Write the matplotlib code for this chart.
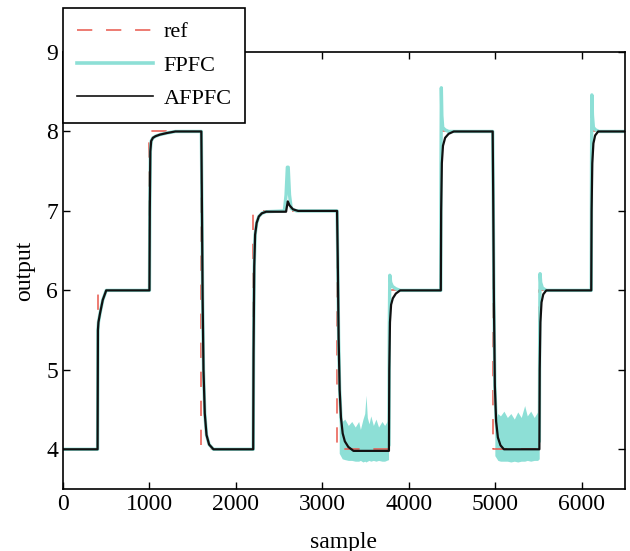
import matplotlib
matplotlib.use("Agg")
import matplotlib.pyplot as plt

plt.rcParams['font.family'] = ['Liberation Serif', 'DejaVu Serif']

# reference step signal (change points and levels)
ref_t = [0, 400, 1000, 1600, 2200, 3170, 3770, 4370, 4970, 5510, 6110, 6500]
ref_v = [4, 6, 8, 4, 7, 4, 6, 8, 4, 6, 8, 8]

# AFPFC output, key points
af_x = [0, 400, 404, 410, 430, 460, 500, 1000, 1004, 1010, 1020, 1040, 1070, 1120, 1200, 1300,
        1600, 1606, 1615, 1625, 1640, 1660, 1690, 1740, 2200, 2204, 2212, 2222, 2240, 2265, 2300,
        2350, 2580, 2600, 2620, 2660, 2720, 3170, 3178, 3188, 3200, 3215, 3235, 3260, 3300, 3360,
        3770, 3774, 3782, 3795, 3815, 3850, 3900, 4370, 4374, 4382, 4395, 4420, 4460, 4520,
        4970, 4976, 4984, 4995, 5010, 5030, 5060, 5100, 5510, 5514, 5522, 5535, 5555, 5590,
        6110, 6114, 6122, 6135, 6155, 6190, 6500]
af_y = [4.0, 4.0, 5.5, 5.6, 5.72, 5.88, 6.0, 6.0, 7.0, 7.75, 7.88, 7.92, 7.94, 7.96, 7.98, 8.0,
        8.0, 7.2, 5.9, 5.0, 4.45, 4.18, 4.06, 4.0, 4.0, 5.2, 6.3, 6.7, 6.85, 6.93, 6.97,
        6.99, 6.99, 7.12, 7.07, 7.02, 7.0, 7.0, 6.4, 5.4, 4.75, 4.4, 4.2, 4.1, 4.03, 3.98,
        3.98, 5.0, 5.6, 5.82, 5.9, 5.96, 6.0, 6.0, 7.0, 7.6, 7.82, 7.92, 7.97, 8.0,
        8.0, 7.2, 5.9, 4.8, 4.35, 4.15, 4.05, 4.0, 4.0, 5.0, 5.6, 5.85, 5.95, 6.0,
        6.0, 7.0, 7.6, 7.85, 7.95, 8.0, 8.0]

# FPFC output, key points
fp_x = [0, 400, 404, 410, 430, 460, 500, 1000, 1004, 1010, 1020, 1040, 1070, 1120, 1200, 1300,
        1600, 1606, 1615, 1625, 1640, 1660, 1690, 1740, 2200, 2204, 2212, 2222, 2240, 2265, 2300,
        2350, 2560, 2580, 2595, 2605, 2620, 2640, 2700, 3170, 3178, 3188, 3200, 3215, 3240,
        3300, 3770, 3774, 3780, 3790, 3810, 3850, 3900, 4370, 4372, 4376, 4382, 4392, 4420, 4460,
        4970, 4976, 4984, 4995, 5010, 5030, 5510, 5514, 5518, 5525, 5545, 5590,
        6110, 6113, 6117, 6124, 6135, 6160, 6200, 6500]
fp_y = [4.0, 4.0, 5.5, 5.6, 5.72, 5.88, 6.0, 6.0, 7.0, 7.75, 7.88, 7.92, 7.94, 7.96, 7.98, 8.0,
        8.0, 7.2, 5.9, 5.0, 4.45, 4.18, 4.06, 4.0, 4.0, 5.2, 6.3, 6.7, 6.85, 6.93, 6.97,
        6.99, 7.0, 7.2, 7.55, 7.55, 7.2, 7.03, 7.0, 7.0, 6.4, 5.4, 4.75, 4.4, 4.15,
        4.05, 4.05, 5.5, 6.19, 6.1, 6.05, 6.02, 6.0, 6.0, 7.5, 8.55, 8.2, 8.05, 8.02, 8.0,
        8.0, 7.2, 5.9, 4.8, 4.35, 4.1, 4.1, 5.6, 6.21, 6.1, 6.03, 6.0,
        6.0, 7.5, 8.46, 8.2, 8.05, 8.02, 8.0, 8.0]

# FPFC noise envelopes around level 4
n1_x = [3195, 3230, 3260, 3300, 3340, 3380, 3420, 3440, 3470, 3490, 3505, 3520, 3540, 3560,
        3590, 3620, 3650, 3690, 3720, 3765]
n1_hi = [4.45, 4.35, 4.38, 4.3, 4.35, 4.28, 4.35, 4.25, 4.38, 4.45, 4.68, 4.4, 4.32, 4.42,
         4.3, 4.38, 4.28, 4.35, 4.3, 4.38]
n1_lo = [3.95, 3.88, 3.87, 3.86, 3.86, 3.85, 3.85, 3.86, 3.84, 3.85, 3.84, 3.85, 3.86, 3.85,
         3.86, 3.85, 3.86, 3.85, 3.85, 3.87]
n2_x = [4995, 5030, 5060, 5100, 5140, 5180, 5220, 5260, 5300, 5340, 5370, 5410, 5450, 5490, 5508]
n2_hi = [4.34, 4.45, 4.42, 4.48, 4.4, 4.45, 4.38, 4.47, 4.4, 4.55, 4.42, 4.48, 4.4, 4.47, 4.4]
n2_lo = [3.92, 3.86, 3.85, 3.85, 3.85, 3.84, 3.85, 3.84, 3.85, 3.85, 3.86, 3.85, 3.86, 3.86, 3.88]

red = '#e8574c'
cyan = '#8ddfd6'

fig = plt.figure(figsize=(6.3, 5.51), dpi=100)
ax = fig.add_axes([0.1, 0.1125, 0.892, 0.7931])

ax.plot(ref_t, ref_v, drawstyle='steps-post', color=red, lw=1.1,
        dashes=(10, 9), label='ref')
ax.fill_between(n1_x, n1_lo, n1_hi, color=cyan, lw=0)
ax.fill_between(n2_x, n2_lo, n2_hi, color=cyan, lw=0)
ax.plot(fp_x, fp_y, color=cyan, lw=2.4, label='FPFC')
ax.plot(af_x, af_y, color='#111111', lw=1.6, label='AFPFC')

ax.set_xlim(0, 6500)
ax.set_ylim(3.5, 9)
ax.set_xticks([0, 1000, 2000, 3000, 4000, 5000, 6000])
ax.set_yticks([4, 5, 6, 7, 8, 9])
ax.tick_params(direction='in', top=True, right=True, length=5, width=1, labelsize=17)
for s in ax.spines.values():
    s.set_linewidth(1.2)
ax.set_xlabel('sample', fontsize=17, labelpad=12)
ax.set_ylabel('output', fontsize=17, labelpad=8)

leg = ax.legend(loc='upper left', bbox_to_anchor=(0.1, 0.9855), bbox_transform=fig.transFigure,
                borderaxespad=0, fontsize=16, handlelength=3.45, handletextpad=0.45,
                labelspacing=0.58, borderpad=0.62, fancybox=False, framealpha=1)
leg.get_frame().set_edgecolor('black')
leg.get_frame().set_linewidth(1.2)
leg.legend_handles[1].set_linewidth(2.6)
leg.legend_handles[2].set_linewidth(1.2)

fig.savefig('out.png', dpi=100)
